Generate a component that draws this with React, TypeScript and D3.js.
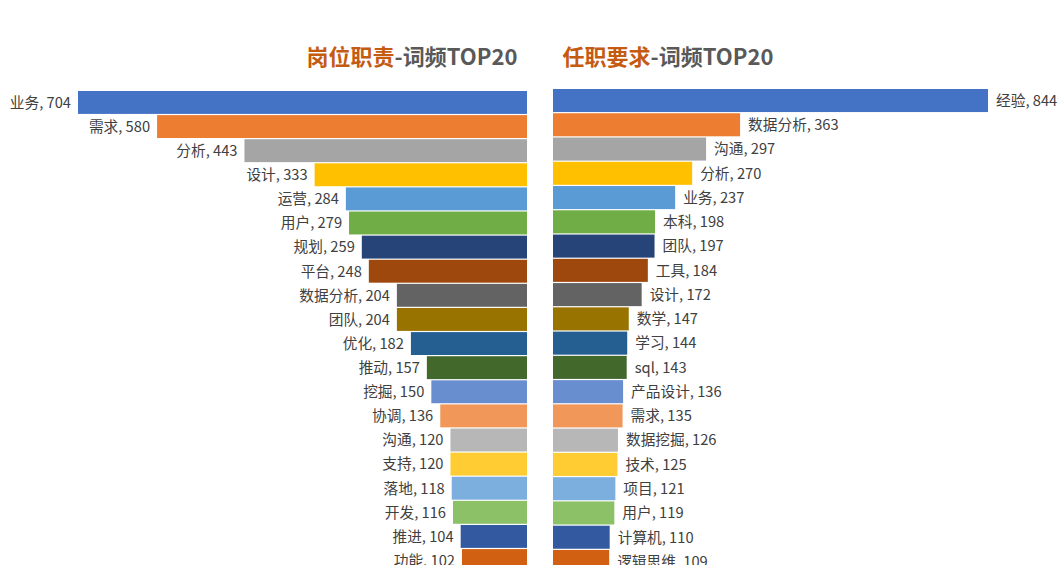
import React from 'react';
import { scaleBand, scaleLinear } from 'd3';

const width = 1062;
const height = 565;

const leftWords = ['业务', '需求', '分析', '设计', '运营', '用户', '规划', '平台', '数据分析', '团队',
  '优化', '推动', '挖掘', '协调', '沟通', '支持', '落地', '开发', '推进', '功能'];
const leftCounts = [704, 580, 443, 333, 284, 279, 259, 248, 204, 204,
  182, 157, 150, 136, 120, 120, 118, 116, 104, 102];

const rightWords = ['经验', '数据分析', '沟通', '分析', '业务', '本科', '团队', '工具', '设计', '数学',
  '学习', 'sql', '产品设计', '需求', '数据挖掘', '技术', '项目', '用户', '计算机', '逻辑思维'];
const rightCounts = [844, 363, 297, 270, 237, 198, 197, 184, 172, 147,
  144, 143, 136, 135, 126, 125, 121, 119, 110, 109];

const colors = ['#4472C4', '#ED7D31', '#A5A5A5', '#FFC000', '#5B9BD5', '#70AD47', '#264478', '#9E480E',
  '#636363', '#997300', '#255E91', '#43682B', '#698ED0', '#F1975A', '#B7B7B7', '#FFCD33',
  '#7CAFDD', '#8CC168', '#335AA1', '#D26012'];

const font = '"Noto Sans CJK SC", "Noto Sans", sans-serif';
const labelColor = '#404040';

function d3range(n: number) {
  return Array.from({ length: n }, (_, i) => i);
}

// left chart grows to the left from x=527
const leftX = scaleLinear().domain([0, 704]).range([527, 78]);
const leftY = scaleBand<number>().domain(d3range(20)).range([91, 91 + 20 * 24.05]).paddingInner(0.05);

// right chart grows to the right from x=553
const rightX = scaleLinear().domain([0, 844]).range([553, 988]);
const rightY = scaleBand<number>().domain(d3range(20)).range([89, 89 + 20 * 24.2]).paddingInner(0.05);

const App = () => (
  <svg width={width} height={height} style={{ position: 'absolute', left: 0, top: 0, background: '#fff' }}>
    <text x={412} y={65} textAnchor='middle' fontFamily={font} fontWeight='bold' fontSize={22}>
      <tspan fill='#C55A11'>岗位职责</tspan>
      <tspan fill='#595959'>-词频TOP20</tspan>
    </text>
    <text x={668} y={65} textAnchor='middle' fontFamily={font} fontWeight='bold' fontSize={22}>
      <tspan fill='#C55A11'>任职要求</tspan>
      <tspan fill='#595959'>-词频TOP20</tspan>
    </text>

    {leftCounts.map((v, i) => (
      <g key={'l' + i}>
        <rect
          x={leftX(v)}
          y={leftY(i)}
          width={leftX(0) - leftX(v)}
          height={leftY.bandwidth()}
          fill={colors[i]}
        />
        <text
          x={leftX(v) - 7}
          y={leftY(i)! + leftY.bandwidth() / 2}
          dy='0.36em'
          textAnchor='end'
          fontFamily={font}
          fontSize={14.7}
          fill={labelColor}
        >
          {`${leftWords[i]}, ${v}`}
        </text>
      </g>
    ))}

    {rightCounts.map((v, i) => (
      <g key={'r' + i}>
        <rect
          x={rightX(0)}
          y={rightY(i)}
          width={rightX(v) - rightX(0)}
          height={rightY.bandwidth()}
          fill={colors[i]}
        />
        <text
          x={rightX(v) + 8}
          y={rightY(i)! + rightY.bandwidth() / 2}
          dy='0.36em'
          fontFamily={font}
          fontSize={14.7}
          fill={labelColor}
        >
          {`${rightWords[i]}, ${v}`}
        </text>
      </g>
    ))}
  </svg>
);

export default App;
